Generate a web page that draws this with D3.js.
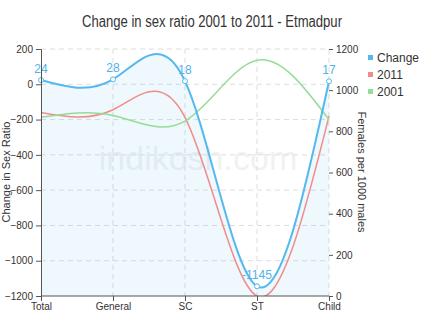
<!DOCTYPE html>
<html><head><meta charset="utf-8">
<script src="https://cdn.jsdelivr.net/npm/d3@7"></script>
<style>
body{margin:0;background:#fff;}
text{font-family:"Liberation Sans",Arial,sans-serif;}
</style></head>
<body><svg id="c" width="425" height="323"></svg>
<script>
const categories = ["Total","General","SC","ST","Child"];
const changeValues = [24, 28, 18, -1145, 17];
const values2011 = [892, 905, 868, 0, 874];
const values2001 = [868, 877, 850, 1145, 857];
const leftTicks = [-1200,-1000,-800,-600,-400,-200,0,200];
const rightTicks = [0,200,400,600,800,1000,1200];
const legendLabels = ["Change","2011","2001"];
const colors = ["#55b8ee","#f28b8b","#96dc96"];

const svg = d3.select("#c");
const x = d3.scalePoint().domain(categories).range([41,329]);
const yL = d3.scaleLinear().domain([-1200,200]).range([296,49]);
const yR = d3.scaleLinear().domain([0,1200]).range([296,49]);

// watermark
svg.append("text").attr("x",198).attr("y",170).attr("text-anchor","middle")
  .attr("font-size",34).attr("fill","#000").attr("opacity",0.05).text("indikosh.com");

// grid
const g = svg.append("g");
leftTicks.filter(t=>t>-1200).forEach(t=>{
  g.append("line").attr("x1",41).attr("x2",329).attr("y1",yL(t)).attr("y2",yL(t))
   .attr("stroke","#ddd").attr("stroke-dasharray","5,4");
});
categories.slice(1).forEach(c=>{
  g.append("line").attr("x1",x(c)).attr("x2",x(c)).attr("y1",49).attr("y2",296)
   .attr("stroke","#ddd").attr("stroke-dasharray","5,4");
});

// area + lines
const area = d3.area().x((d,i)=>x(categories[i])).y0(296).y1(d=>yL(d)).curve(d3.curveNatural);
svg.append("path").datum(changeValues).attr("d",area).attr("fill",colors[0]).attr("fill-opacity",0.1);

const lineL = d3.line().x((d,i)=>x(categories[i])).y(d=>yL(d)).curve(d3.curveNatural);
const lineR = d3.line().x((d,i)=>x(categories[i])).y(d=>yR(d)).curve(d3.curveNatural);
svg.append("clipPath").attr("id","pc").append("rect").attr("x",41).attr("y",30).attr("width",290).attr("height",266);
svg.append("path").datum(values2011).attr("d",lineR).attr("fill","none").attr("stroke",colors[1]).attr("stroke-width",1.5).attr("clip-path","url(#pc)");
svg.append("path").datum(values2001).attr("d",lineR).attr("fill","none").attr("stroke",colors[2]).attr("stroke-width",1.5).attr("clip-path","url(#pc)");
svg.append("path").datum(changeValues).attr("d",lineL).attr("fill","none").attr("stroke",colors[0]).attr("stroke-width",2);

// markers & labels
changeValues.forEach((v,i)=>{
  svg.append("circle").attr("cx",x(categories[i])).attr("cy",yL(v)).attr("r",2.5)
    .attr("fill","#fff").attr("stroke",colors[0]).attr("stroke-width",1);
  svg.append("text").attr("x",x(categories[i])).attr("y",yL(v)-7).attr("text-anchor","middle")
    .attr("font-size",12).attr("fill","#4fb3ea").text(v);
});

// axes
const fmt = d3.format("d");
const axL = d3.axisLeft(yL).tickValues(leftTicks).tickFormat(fmt).tickSize(5).tickPadding(3);
const gl = svg.append("g").attr("transform","translate(41,0)").call(axL);
gl.select(".domain").attr("stroke","#555");
gl.selectAll(".tick line").attr("stroke","#555");
gl.selectAll("text").attr("font-size",10).attr("fill","#333").attr("font-family","Liberation Sans,sans-serif");

const axR = d3.axisRight(yR).tickValues(rightTicks).tickFormat(fmt).tickSize(4).tickPadding(3);
const gr = svg.append("g").attr("transform","translate(329,0)").call(axR);
gr.select(".domain").remove();
gr.selectAll(".tick line").attr("stroke","#555");
gr.selectAll("text").attr("font-size",10).attr("fill","#333").attr("font-family","Liberation Sans,sans-serif");

const axB = d3.axisBottom(x).tickSize(5).tickPadding(2);
const gb = svg.append("g").attr("transform","translate(0,296)").call(axB);
gb.select(".domain").attr("stroke","#555").attr("d","M41,0H329");
gb.selectAll(".tick line").attr("stroke","#555");
gb.selectAll("text").attr("font-size",10).attr("fill","#333").attr("font-family","Liberation Sans,sans-serif");

// titles
svg.append("text").attr("x",212).attr("y",27).attr("text-anchor","middle")
  .attr("font-size",16).attr("fill","#333").attr("textLength",260).attr("lengthAdjust","spacingAndGlyphs")
  .text("Change in sex ratio 2001 to 2011 - Etmadpur");
svg.append("text").attr("transform","translate(10,172) rotate(-90)").attr("text-anchor","middle")
  .attr("font-size",11).attr("fill","#333").text("Change in Sex Ratio");
svg.append("text").attr("transform","translate(358,172) rotate(90)").attr("text-anchor","middle")
  .attr("font-size",11).attr("fill","#333").text("Females per 1000 males");

// legend
legendLabels.forEach((l,i)=>{
  const ly = 58 + i*17;
  svg.append("rect").attr("x",368).attr("y",ly-3).attr("width",5).attr("height",5).attr("fill",colors[i]);
  svg.append("text").attr("x",377).attr("y",ly+4).attr("font-size",12).attr("fill","#333").text(l);
});
</script></body></html>
